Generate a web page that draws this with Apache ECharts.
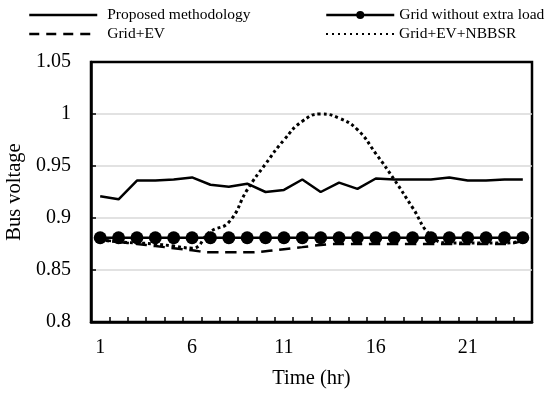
<!DOCTYPE html>
<html><head><meta charset="utf-8">
<script src="https://cdn.jsdelivr.net/npm/echarts@6/dist/echarts.min.js"></script>
<style>html,body{margin:0;padding:0;background:#fff}#c{width:550px;height:397px}</style>
</head><body><div id="c"></div>
<script>
const hours = ['1','2','3','4','5','6','7','8','9','10','11','12','13','14','15','16','17','18','19','20','21','22','23','24'];
const proposed = [0.921,0.918,0.936,0.936,0.937,0.939,0.932,0.930,0.933,0.925,0.927,0.937,0.925,0.934,0.928,0.938,0.937,0.937,0.937,0.939,0.936,0.936,0.937,0.937];
const gridNoLoad = [0.881,0.881,0.881,0.881,0.881,0.881,0.881,0.881,0.881,0.881,0.881,0.881,0.881,0.881,0.881,0.881,0.881,0.881,0.881,0.881,0.881,0.881,0.881,0.881];
const gridEV = [0.879,0.877,0.875,0.873,0.871,0.869,0.867,0.867,0.867,0.868,0.870,0.872,0.874,0.875,0.875,0.875,0.875,0.875,0.875,0.875,0.875,0.875,0.875,0.878];
const gridEVNBBSR = [0.879,0.877,0.876,0.875,0.873,0.871,0.887,0.896,0.927,0.952,0.975,0.993,1.000,0.996,0.985,0.962,0.937,0.910,0.883,0.876,0.876,0.876,0.876,0.878];
const yMin = 0.8, yMax = 1.05, yStep = 0.05;

const FONT = "'Times New Roman','Liberation Serif',serif";
const chart = echarts.init(document.getElementById('c'), null, {renderer: 'canvas'});

function legendBox(name, left, top, textPad, lineStyle, itemStyle) {
  return {
    left: left, top: top, padding: 0, itemWidth: 68, itemHeight: 10,
    textStyle: {fontFamily: FONT, fontSize: 15.5, color: '#000', padding: [0,0,0,textPad]},
    data: [{name: name, lineStyle: lineStyle, itemStyle: itemStyle}],
    selectedMode: false
  };
}

const option = {
  animation: false,
  backgroundColor: '#fff',
  legend: [
    legendBox('Proposed methodology', 28, 7, 5, {width: 2.5, type: 'solid', color: '#000'}, {opacity: 0}),
    legendBox('Grid without extra load', 325, 7, 0, {width: 2.5, type: 'solid', color: '#000'}, {color: '#000'}),
    legendBox('Grid+EV', 28, 26, 5, {width: 2.5, type: [10, 7], color: '#000'}, {opacity: 0}),
    legendBox('Grid+EV+NBBSR', 325, 26, 0, {width: 2, type: [2, 4], color: '#000'}, {opacity: 0})
  ],
  grid: {left: 91, right: 18, top: 62, bottom: 75, show: true, borderColor: '#000', borderWidth: 2.5,
         containLabel: false, outerBoundsMode: 'none'},
  xAxis: {
    type: 'category', data: hours, boundaryGap: true,
    name: 'Time (hr)', nameLocation: 'middle', nameGap: 46,
    nameTextStyle: {fontFamily: FONT, fontSize: 20.5, color: '#000', verticalAlign: 'top'},
    axisLine: {lineStyle: {color: '#000', width: 2.5}},
    axisTick: {show: true, inside: true, length: 5, interval: 0, lineStyle: {color: '#000', width: 1.5}},
    axisLabel: {interval: 4, margin: 16, fontFamily: FONT, fontSize: 20, color: '#000'},
    splitLine: {show: false}
  },
  yAxis: {
    type: 'value', min: yMin, max: yMax, interval: yStep,
    name: 'Bus voltage', nameLocation: 'middle', nameGap: 63, nameRotate: 90,
    nameTextStyle: {fontFamily: FONT, fontSize: 20.5, color: '#000'},
    axisLine: {show: true, lineStyle: {color: '#000', width: 2.5}},
    axisTick: {show: true, inside: true, length: 5, lineStyle: {color: '#000', width: 1.5}},
    axisLabel: {margin: 20, fontFamily: FONT, fontSize: 20, color: '#000', formatter: v => String(+v.toFixed(2))},
    splitLine: {show: true, showMinLine: false, showMaxLine: false, lineStyle: {color: '#d9d9d9', width: 1.5}}
  },
  series: [
    {name: 'Proposed methodology', type: 'line', data: proposed, symbol: 'none', smooth: false,
     lineStyle: {color: '#000', width: 2.5}, itemStyle: {color: '#000'}, z: 3},
    {name: 'Grid+EV', type: 'line', data: gridEV, symbol: 'none', smooth: true,
     lineStyle: {color: '#000', width: 2.5, type: [11, 7]}, itemStyle: {color: '#000'}, z: 2},
    {name: 'Grid without extra load', type: 'line', data: gridNoLoad, symbol: 'circle', symbolSize: 13, showAllSymbol: true,
     lineStyle: {color: '#000', width: 2.5}, itemStyle: {color: '#000'}, z: 4},
    {name: 'Grid+EV+NBBSR', type: 'line', data: gridEVNBBSR, symbol: 'none', smooth: true,
     lineStyle: {color: '#000', width: 3, type: [3, 3]}, itemStyle: {color: '#000'}, z: 5}
  ]
};
chart.setOption(option);
</script>
</body></html>
